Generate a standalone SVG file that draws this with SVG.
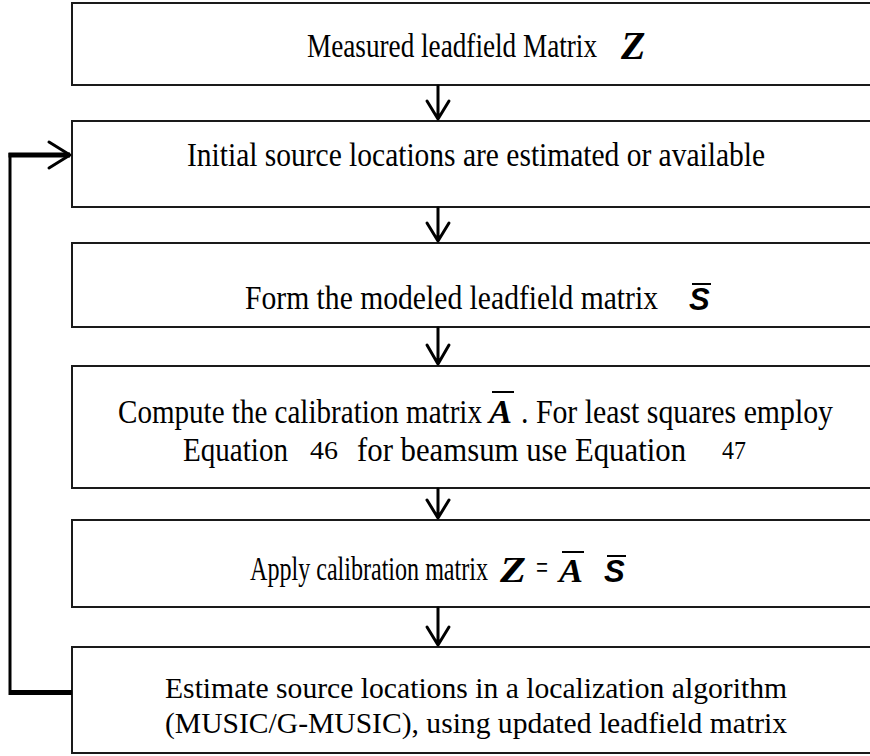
<svg xmlns="http://www.w3.org/2000/svg" width="870" height="756" viewBox="0 0 870 756">
<style>
.box{fill:#fff;stroke:#1a1a1a;stroke-width:2}
.t{font-family:"Liberation Serif","Times New Roman",serif;font-size:33px;fill:#000}
.t6{font-family:"Liberation Serif","Times New Roman",serif;font-size:30px;fill:#000}
.m{font-family:"Liberation Serif","Times New Roman",serif;font-weight:bold;font-style:italic;fill:#000}
.ms{font-family:"Liberation Sans",Arial,sans-serif;font-weight:bold;font-style:italic;fill:#000}
.n{font-family:"Liberation Serif","Times New Roman",serif;font-size:25px;fill:#000}
.ov{stroke:#000;stroke-width:2}
.c{fill:none;stroke:#000;stroke-width:3;stroke-linecap:round;stroke-linejoin:round}
.fb{fill:none;stroke:#000;stroke-linejoin:miter}
</style>
<g id="n1">
<rect class="box" x="72" y="3" width="820" height="82"/>
<text class="t" transform="translate(307,57) scale(0.82,1)" textLength="353.7" lengthAdjust="spacingAndGlyphs">Measured leadfield Matrix</text>
<text class="m" x="621" y="59" font-size="40">Z</text>
</g>
<g id="n2">
<rect class="box" x="72" y="121" width="820" height="86"/>
<text class="t" transform="translate(187,166) scale(0.893,1)" textLength="647.3" lengthAdjust="spacingAndGlyphs">Initial source locations are estimated or available</text>
</g>
<g id="n3">
<rect class="box" x="72" y="243" width="820" height="84"/>
<text class="t" transform="translate(245,309) scale(0.898,1)" textLength="459.9" lengthAdjust="spacingAndGlyphs">Form the modeled leadfield matrix</text>
<text class="ms" x="689" y="310" font-size="31">S</text>
<line class="ov" x1="692" y1="284" x2="711" y2="284"/>
</g>
<g id="n4">
<rect class="box" x="72" y="366" width="820" height="122"/>
<text class="t" transform="translate(118,423) scale(0.88,1)" textLength="413.6" lengthAdjust="spacingAndGlyphs">Compute the calibration matrix</text>
<text class="m" x="489" y="423" font-size="34" textLength="23" lengthAdjust="spacingAndGlyphs">A</text>
<line class="ov" x1="492" y1="392" x2="514" y2="392"/>
<text class="t" transform="translate(521,423) scale(0.9,1)" textLength="346.7" lengthAdjust="spacingAndGlyphs">. For least squares employ</text>
<text class="t" transform="translate(183,461) scale(0.88,1)" textLength="119.3" lengthAdjust="spacingAndGlyphs">Equation</text>
<text class="n" transform="translate(310,459) scale(0.85,1)" textLength="32.9" lengthAdjust="spacingAndGlyphs">46</text>
<text class="t" transform="translate(357,461) scale(0.93,1)" textLength="353.8" lengthAdjust="spacingAndGlyphs">for beamsum use Equation</text>
<text class="n" transform="translate(722,459) scale(0.85,1)" textLength="28.2" lengthAdjust="spacingAndGlyphs">47</text>
</g>
<g id="n5">
<rect class="box" x="72" y="520" width="820" height="87"/>
<text class="t" transform="translate(250,580) scale(0.73,1)" textLength="326" lengthAdjust="spacingAndGlyphs">Apply calibration matrix</text>
<text class="m" x="500" y="582" font-size="36" textLength="26" lengthAdjust="spacingAndGlyphs">Z</text>
<text class="t" x="536" y="579" font-size="20" textLength="12" lengthAdjust="spacingAndGlyphs">=</text>
<text class="m" x="559" y="582" font-size="34" textLength="24" lengthAdjust="spacingAndGlyphs">A</text>
<line class="ov" x1="562" y1="552" x2="584" y2="552"/>
<text class="ms" x="604" y="582" font-size="31">S</text>
<line class="ov" x1="607" y1="556" x2="626" y2="556"/>
</g>
<g id="n6">
<rect class="box" x="72" y="647" width="820" height="106"/>
<text class="t6" transform="translate(165,698) scale(0.987,1)" textLength="630.2" lengthAdjust="spacingAndGlyphs">Estimate source locations in a localization algorithm</text>
<text class="t6" transform="translate(165,733) scale(0.94,1)" textLength="661.7" lengthAdjust="spacingAndGlyphs">(MUSIC/G-MUSIC), using updated leadfield matrix</text>
</g>
<g id="connectors">
<path class="c" d="M438 86 V119 M427 101 L438 119 L449 101"/>
<path class="c" d="M438 208 V241 M427 223 L438 241 L449 223"/>
<path class="c" d="M438 328 V364 M427 345 L438 364 L449 345"/>
<path class="c" d="M438 489 V518 M427 500 L438 518 L449 500"/>
<path class="c" d="M438 608 V645 M427 627 L438 645 L449 627"/>
<path class="fb" d="M72 692.5 H10" stroke-width="5"/>
<path class="fb" d="M10 695 V153" stroke-width="3"/>
<path class="fb" d="M8.5 155 H70" stroke-width="5"/>
<path class="c" d="M49 142 L70 155 L49 168" stroke-width="5"/>
</g>
</svg>
